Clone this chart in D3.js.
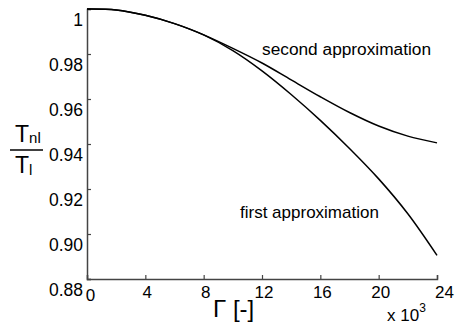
<!DOCTYPE html>
<html><head><meta charset="utf-8">
<script src="https://cdn.jsdelivr.net/npm/d3@7"></script>
<style>
html,body{margin:0;padding:0;background:#fff;}
svg{display:block;}
text{font-family:"Liberation Sans",Arial,sans-serif;fill:#000;}
</style></head>
<body>
<svg id="c" width="459" height="331"></svg>
<script>
// Gamma values (x 10^3)
const gamma = [0, 2, 4, 6, 8, 10, 12, 14, 16, 18, 20, 22, 24];
// first approximation T_nl/T_l
const firstApprox = [1.0, 0.9996, 0.9972, 0.9935, 0.9885, 0.9815, 0.9725, 0.962, 0.9505, 0.938, 0.9245, 0.909, 0.8905];
// second approximation T_nl/T_l
const secondApprox = [1.0, 0.9996, 0.9972, 0.9935, 0.9885, 0.9825, 0.976, 0.9685, 0.961, 0.954, 0.948, 0.9435, 0.9405];
const xTicks = [0, 4, 8, 12, 16, 20, 24];
const xTickLabels = ["0", "4", "8", "12", "16", "20", "24"];
const yTicks = [0.88, 0.90, 0.92, 0.94, 0.96, 0.98, 1.0];
const yTickLabels = ["0.88", "0.90", "0.92", "0.94", "0.96", "0.98", "1"];

const svg = d3.select("#c");
const x = d3.scaleLinear().domain([0, 24]).range([87, 437]);
const y = d3.scaleLinear().domain([0.88, 1.0]).range([279, 9]);

// y axis
const ya = svg.append("g").attr("transform", `translate(${x(0)},0)`)
  .call(d3.axisLeft(y).tickValues(yTicks).tickSize(-4).tickPadding(4)
    .tickFormat((d, i) => yTickLabels[i]));
ya.select(".domain").attr("stroke", "#444").attr("stroke-width", 1.5);
ya.selectAll(".tick line").attr("stroke", "#444").attr("stroke-width", 1.2);
ya.selectAll(".tick text").attr("font-size", 17.5).attr("dy", "0.95em")
  .attr("font-family", "'Liberation Sans',Arial,sans-serif");

// x axis
const xa = svg.append("g").attr("transform", `translate(0,${y(0.88)})`)
  .call(d3.axisBottom(x).tickValues(xTicks).tickSize(-4).tickPadding(7)
    .tickFormat((d, i) => xTickLabels[i]));
xa.select(".domain").attr("stroke", "#444").attr("stroke-width", 1.5);
xa.selectAll(".tick line").attr("stroke", "#444").attr("stroke-width", 1.2);
xa.selectAll(".tick text").attr("font-size", 17)
  .attr("font-family", "'Liberation Sans',Arial,sans-serif")
  .attr("dx", (d, i) => i === 0 ? 3 : (i === xTicks.length - 1 ? 7 : 1.5))
  .attr("dy", (d, i) => i === 0 ? "0.9em" : "0.71em");

// curves
const line = (vals) => d3.line().x((d, i) => x(gamma[i])).y(d => y(d)).curve(d3.curveCatmullRom)(vals);
svg.append("path").attr("d", line(firstApprox)).attr("fill", "none").attr("stroke", "#000").attr("stroke-width", 1.5);
svg.append("path").attr("d", line(secondApprox)).attr("fill", "none").attr("stroke", "#000").attr("stroke-width", 1.5);

// annotations
svg.append("text").attr("x", 262).attr("y", 55).attr("font-size", 17.3).text("second approximation");
svg.append("text").attr("x", 240).attr("y", 218).attr("font-size", 17).text("first approximation");

// x label
const xl = svg.append("text").attr("x", 213).attr("y", 317).attr("font-size", 24)
  .attr("font-family", "'Liberation Serif','Times New Roman',serif");
xl.append("tspan").text("Γ [-]");

const mult = svg.append("text").attr("x", 387).attr("y", 321).attr("font-size", 17);
mult.append("tspan").text("x 10");
mult.append("tspan").attr("dy", -9).attr("font-size", 12).text("3");

// y label fraction
const yl = svg.append("g");
const num = yl.append("text").attr("x", 15).attr("y", 142).attr("font-size", 23);
num.append("tspan").text("T");
num.append("tspan").attr("font-size", 15).attr("dy", 1).text("nl");
yl.append("line").attr("x1", 10).attr("x2", 43).attr("y1", 150).attr("y2", 150).attr("stroke", "#000").attr("stroke-width", 1.5);
const den = yl.append("text").attr("x", 15).attr("y", 173).attr("font-size", 23);
den.append("tspan").text("T");
den.append("tspan").attr("font-size", 15).attr("dy", 2).text("l");
</script>
</body></html>
